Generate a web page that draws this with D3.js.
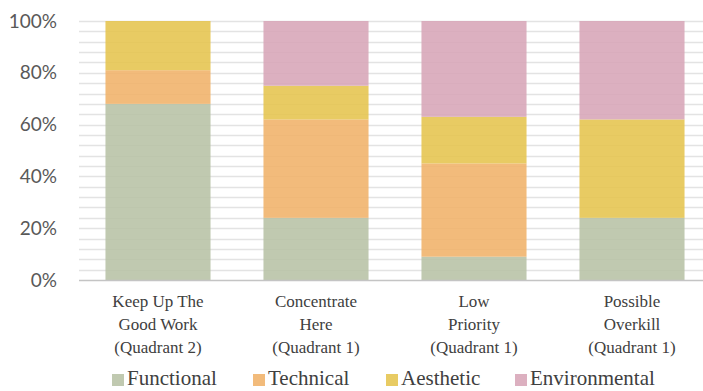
<!DOCTYPE html>
<html>
<head>
<meta charset="utf-8">
<script src="https://cdn.jsdelivr.net/npm/d3@7"></script>
<style>
  html, body { margin: 0; padding: 0; background: #fff; }
  svg { display: block; }
  .serif { font-family: "Liberation Serif", "Times New Roman", Tinos, "DejaVu Serif", serif; }
  .sans { font-family: Lato, "Open Sans", sans-serif; }
</style>
</head>
<body>
<svg id="chart" width="703" height="391"></svg>
<script>
// Share of each concern type per action quadrant (percent of bar)
const categories = [
  ["Keep Up The", "Good Work", "(Quadrant 2)"],
  ["Concentrate", "Here", "(Quadrant 1)"],
  ["Low", "Priority", "(Quadrant 1)"],
  ["Possible", "Overkill", "(Quadrant 1)"]
];
const seriesNames = ["Functional", "Technical", "Aesthetic", "Environmental"];
const functional    = [68, 24, 9, 24];
const technical     = [13, 38, 36, 0];
const aesthetic     = [19, 13, 18, 38];
const environmental = [0, 25, 37, 38];
const yTicks = [0, 20, 40, 60, 80, 100];
const gridStep = 4;

const colors = ["#b7c2a5", "#f0b269", "#e5c44d", "#d7a5b7"];

const rows = categories.map((c, i) => ({
  key: i,
  Functional: functional[i],
  Technical: technical[i],
  Aesthetic: aesthetic[i],
  Environmental: environmental[i]
}));

const svg = d3.select("#chart");
const margin = { left: 79, right: 711, top: 21, bottom: 280 };

const x = d3.scaleBand()
  .domain(rows.map(d => d.key))
  .range([margin.left, margin.right])
  .paddingInner(0.335)
  .paddingOuter(0.1675);

const y = d3.scaleLinear().domain([0, 100]).range([margin.bottom, margin.top]);

// Minor horizontal gridlines
svg.append("g")
  .selectAll("line")
  .data(d3.range(gridStep, 100 + gridStep / 2, gridStep))
  .join("line")
  .attr("x1", margin.left).attr("x2", 703)
  .attr("y1", d => Math.round(y(d)) + 0.5)
  .attr("y2", d => Math.round(y(d)) + 0.5)
  .attr("stroke", "#e3e3e3")
  .attr("stroke-width", 1.3);

// Stacked bars
const stack = d3.stack().keys(seriesNames)(rows);
svg.append("g")
  .selectAll("g")
  .data(stack)
  .join("g")
  .attr("fill", (d, i) => colors[i])
  .attr("fill-opacity", 0.88)
  .selectAll("rect")
  .data(d => d)
  .join("rect")
  .attr("x", d => x(d.data.key))
  .attr("width", x.bandwidth())
  .attr("y", d => y(d[1]))
  .attr("height", d => y(d[0]) - y(d[1]));

// Baseline axis
svg.append("line")
  .attr("x1", margin.left).attr("x2", 703)
  .attr("y1", y(0) + 0.5).attr("y2", y(0) + 0.5)
  .attr("stroke", "#c4c4c4")
  .attr("stroke-width", 1.5);

// Y axis labels
const yAxis = d3.axisLeft(y)
  .tickValues(yTicks)
  .tickFormat(d => d + "%")
  .tickSize(0)
  .tickPadding(0);
const yg = svg.append("g")
  .attr("transform", "translate(57,0)")
  .call(yAxis)
  .attr("font-family", null)
  .attr("font-size", null);
yg.select(".domain").remove();
yg.selectAll("text")
  .attr("class", "sans")
  .attr("fill", "#595959")
  .style("font-size", "19px");

// Category labels (three lines each)
const xg = svg.append("g");
categories.forEach((lines, i) => {
  const t = xg.append("text")
    .attr("class", "serif")
    .attr("text-anchor", "middle")
    .attr("fill", "#404040")
    .style("font-size", "17px");
  lines.forEach((ln, j) => {
    t.append("tspan")
      .attr("x", x(i) + x.bandwidth() / 2)
      .attr("y", 307 + j * 23)
      .text(ln);
  });
});

// Legend
const legendX = [112, 253, 386, 515];
const lg = svg.append("g");
seriesNames.forEach((name, i) => {
  lg.append("rect")
    .attr("x", legendX[i]).attr("y", 374)
    .attr("width", 12).attr("height", 12)
    .attr("fill", colors[i])
    .attr("fill-opacity", 0.88);
  lg.append("text")
    .attr("class", "serif")
    .attr("x", legendX[i] + 15).attr("y", 385)
    .attr("fill", "#404040")
    .style("font-size", "21px")
    .text(name);
});
</script>
</body>
</html>
